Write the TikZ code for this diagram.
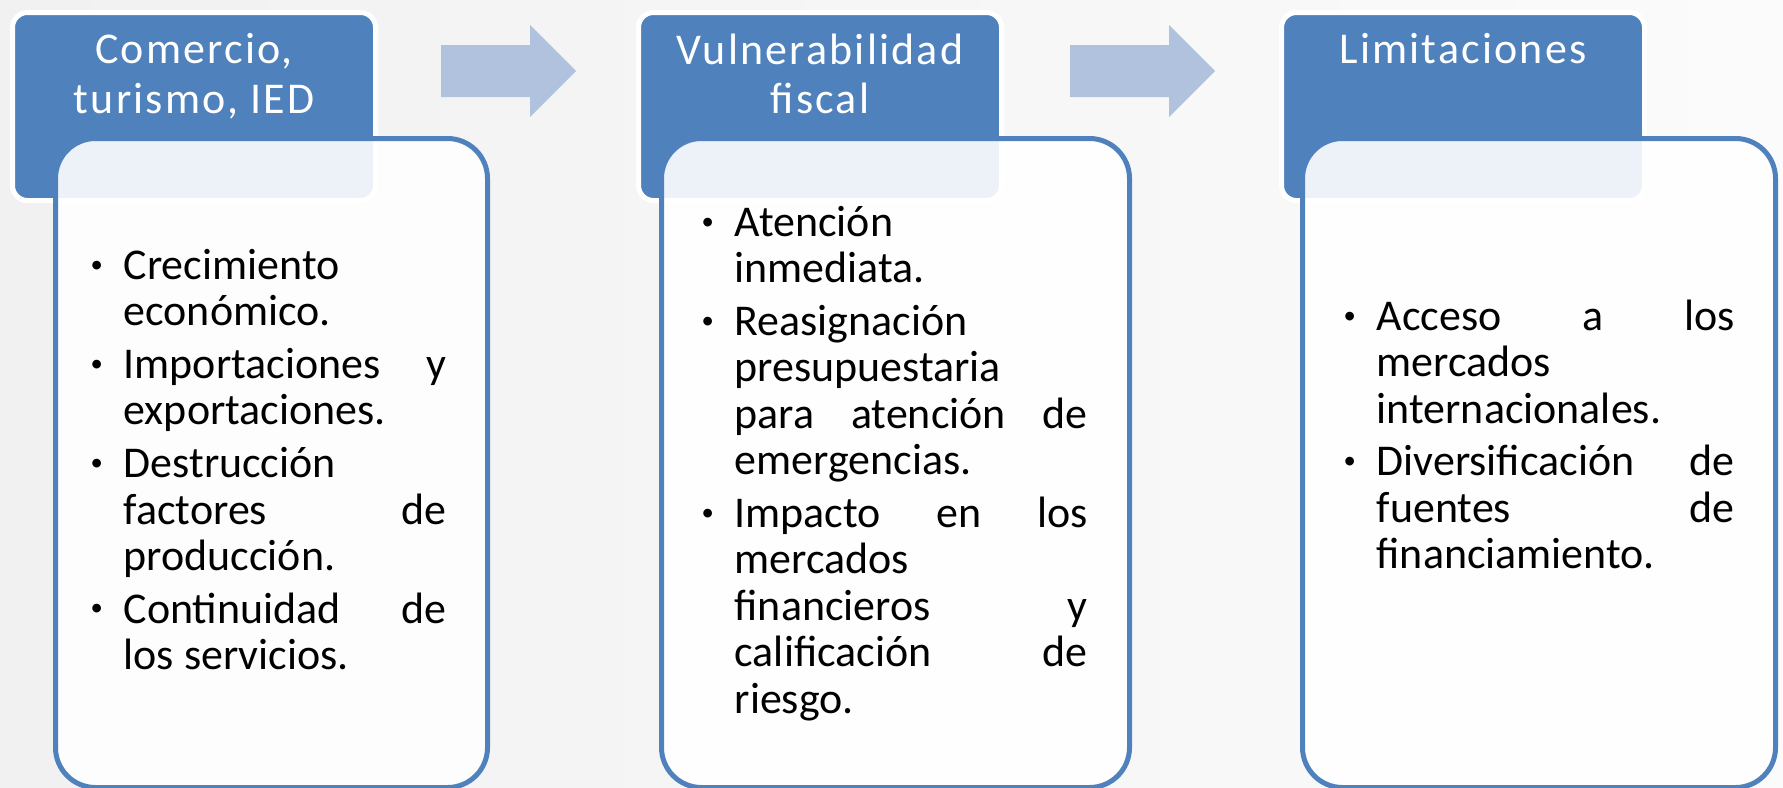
\documentclass[tikz,border=0pt]{standalone}
\usepackage{fontspec}
\setmainfont{Carlito}
\newfontfamily\hdrfont{Carlito}[LetterSpace=5]
\usetikzlibrary{calc,positioning}
\definecolor{azul}{HTML}{4F81BD}
\definecolor{azulclaro}{HTML}{B0C2DE}
\definecolor{fondoA}{HTML}{F1F1F1}
\definecolor{fondoB}{HTML}{FBFBFB}

\newcommand{\punto}{\raisebox{0.35ex}{\fontsize{7pt}{7pt}\selectfont\textbullet}}
\newcommand{\itm}[1]{\par\noindent\hangindent=3.3mm\hangafter=1\makebox[3.3mm][l]{\punto}#1\par}
\newcommand{\listaset}{\hyphenpenalty=10000\exhyphenpenalty=10000\tolerance=9999\parskip=1.8pt}

\tikzset{
  hdr/.style={fill=azul, draw=white, line width=0.5mm, rounded corners=1.5mm, anchor=north west, minimum width=36.3mm, minimum height=18.8mm},
  cuerpo/.style={fill=white, fill opacity=0.9, draw=azul, line width=0.5mm, rounded corners=4mm, anchor=north west, minimum height=64.9mm},
  hdrtxt/.style={text=white, font=\hdrfont\fontsize{12.5pt}{14pt}\selectfont, align=center, anchor=north, inner sep=0},
  lista/.style={font=\fontsize{12.5pt}{13.2pt}\selectfont, align=justify, anchor=north west, inner sep=0},
  flecha/.style={fill=azulclaro}
}

\begin{document}
\begin{tikzpicture}[x=0.1mm,y=-0.1mm]
\useasboundingbox (0,0) rectangle (1783,787);
\shade[left color=fondoA, right color=fondoB] (0,0) rectangle (1783,787);

% cabeceras
\node[hdr] (h1) at (10,10) {};
\node[hdr] (h2) at (636,10) {};
\node[hdr] (h3) at (1279,10) {};

\node[hdrtxt] (th1) at ($(h1.north)+(0,23)$) {Comercio,\\turismo, IED};
\node[hdrtxt] (th2) at ($(h2.north)+(0,23)$) {Vulnerabilidad\\fiscal};
\node[hdrtxt] (th3) at ($(h3.north)+(0,23)$) {Limitaciones};

% flechas
\coordinate (f1) at (441,45);
\fill[flecha] (f1) -- ++(89,0) -- ++(0,-20) -- ++(46,46) -- ++(-46,46) -- ++(0,-20) -- ++(-89,0) -- cycle;
\coordinate (f2) at (1070,45);
\fill[flecha] (f2) -- ++(99,0) -- ++(0,-20) -- ++(46,46) -- ++(-46,46) -- ++(0,-20) -- ++(-99,0) -- cycle;

% cuerpos
\node[cuerpo, minimum width=43.2mm] (b1) at (53,136) {};
\node[cuerpo, minimum width=46.8mm] (b2) at (659,136) {};
\node[cuerpo, minimum width=47.3mm] (b3) at (1300,136) {};

\node[lista, text width=35.6mm] (t1) at ($(b1.north west)+(37,90)$) {\listaset
\itm{Crecimiento \linebreak económico.}
\itm{Importaciones y \linebreak exportaciones.}
\itm{Destrucción \linebreak factores de \linebreak producción.}
\itm{Continuidad de \linebreak los servicios.}};

\node[lista, text width=38.6mm] (t2) at ($(b2.north west)+(42,47)$) {\listaset
\itm{Atención \linebreak inmediata.}
\itm{Reasignación \linebreak presupuestaria \linebreak para atención de \linebreak emergencias.}
\itm{Impacto en los \linebreak mercados \linebreak financieros y \linebreak calificación de \linebreak riesgo.}};

\node[lista, text width=39.1mm] (t3) at ($(b3.north west)+(43,141)$) {\listaset
\itm{Acceso a los \linebreak mercados \linebreak internacionales.}
\itm{Diversificación de \linebreak fuentes de \linebreak financiamiento.}};
\end{tikzpicture}
\end{document}
